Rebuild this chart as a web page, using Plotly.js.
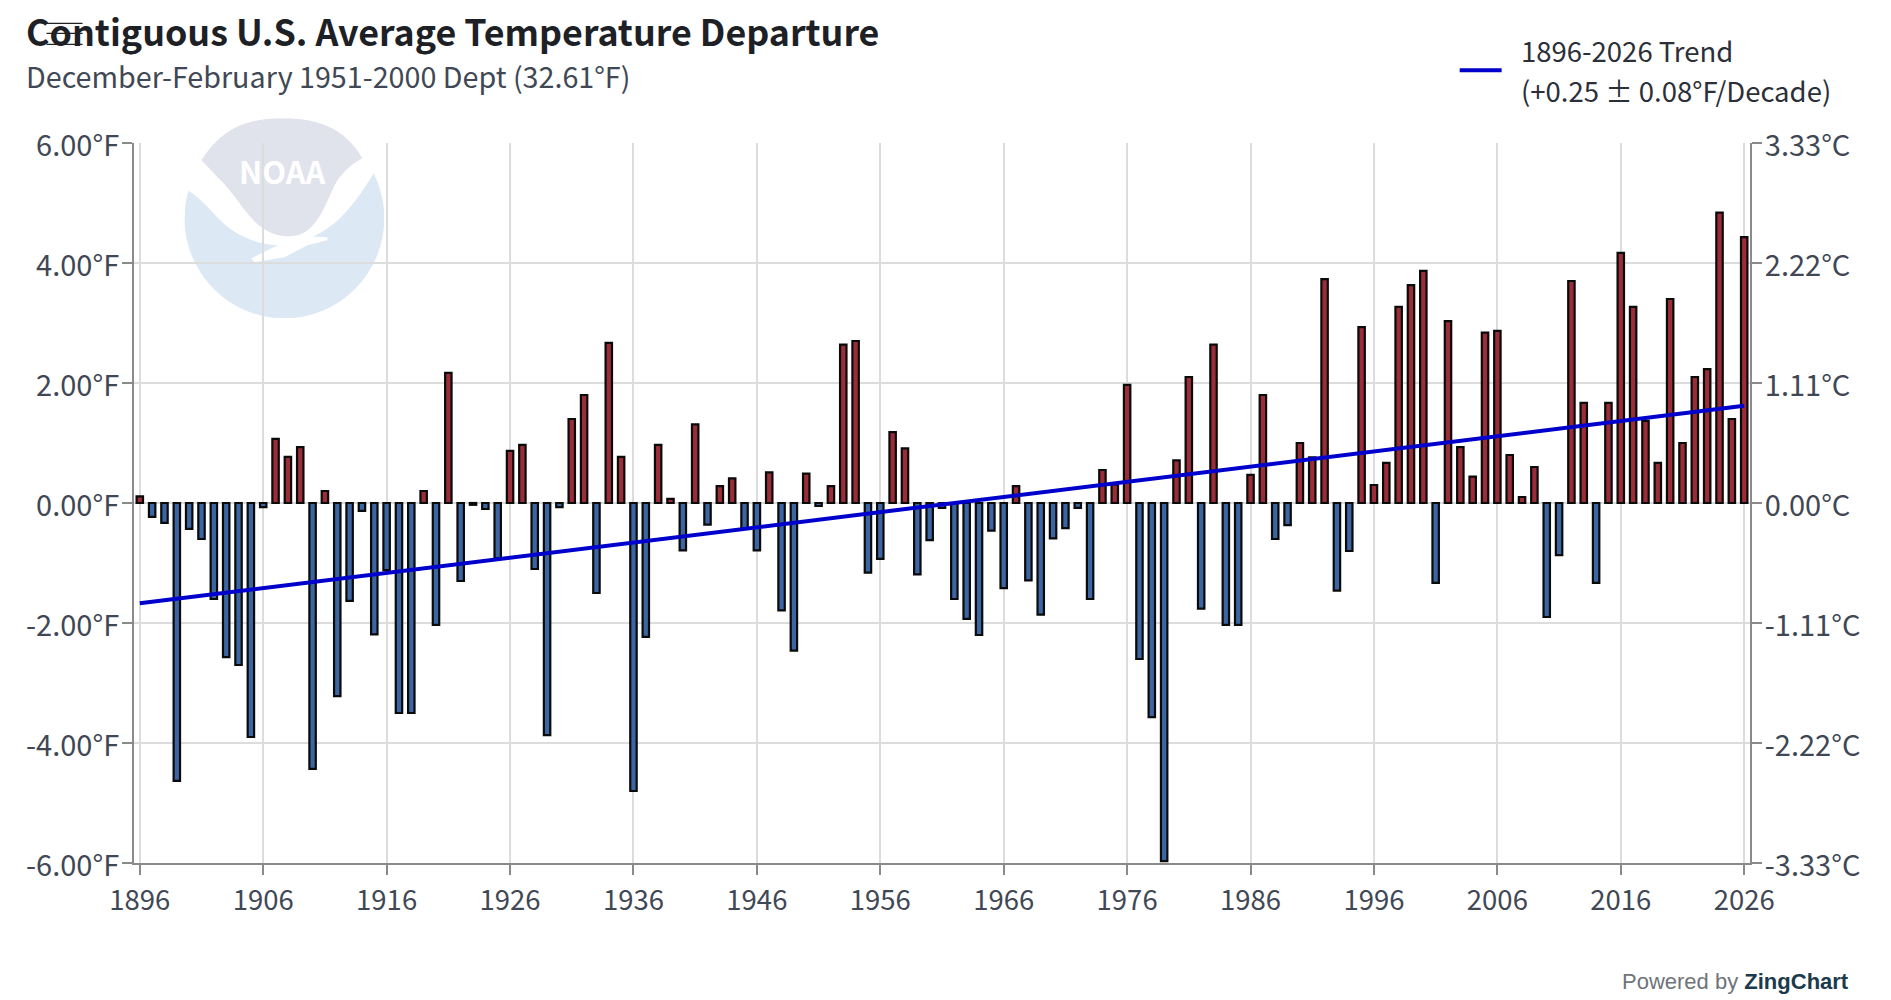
<!DOCTYPE html>
<html>
<head>
<meta charset="utf-8">
<script src="https://cdn.plot.ly/plotly-3.0.1.min.js"></script>
<style>body { margin: 0; background: #fff; }</style>
</head>
<body>
<div id="chart" style="width:1891px;height:1000px"></div>
<script>
// departures in deg F, 1896 to 2026
var years = [];
for (var yr = 1896; yr <= 2026; yr++) years.push(yr);

var departures = [
  0.11, -0.23, -0.33, -4.63, -0.43, -0.60, -1.60, -2.57, -2.70, -3.90,
  -0.07, 1.07, 0.77, 0.93, -4.43, 0.20, -3.22, -1.63, -0.13, -2.19,
  -1.12, -3.50, -3.50, 0.20, -2.03, 2.17, -1.30, -0.03, -0.10, -0.92,
  0.87, 0.97, -1.10, -3.87, -0.07, 1.40, 1.80, -1.50, 2.67, 0.77,
  -4.80, -2.23, 0.97, 0.07, -0.79, 1.31, -0.36, 0.28, 0.41, -0.42,
  -0.79, 0.51, -1.79, -2.46, 0.49, -0.05, 0.28, 2.64, 2.70, -1.16,
  -0.93, 1.18, 0.91, -1.19, -0.62, -0.08, -1.60, -1.93, -2.20, -0.46,
  -1.42, 0.28, -1.29, -1.86, -0.59, -0.42, -0.08, -1.60, 0.55, 0.31,
  1.97, -2.60, -3.57, -5.97, 0.71, 2.10, -1.76, 2.64, -2.03, -2.03,
  0.47, 1.80, -0.60, -0.37, 1.00, 0.76, 3.73, -1.46, -0.80, 2.93,
  0.30, 0.67, 3.27, 3.63, 3.87, -1.33, 3.03, 0.93, 0.44, 2.84,
  2.87, 0.80, 0.10, 0.60, -1.90, -0.87, 3.70, 1.67, -1.33, 1.67,
  4.17, 3.27, 1.37, 0.67, 3.40, 1.00, 2.10, 2.23, 4.84, 1.40,
  4.43
];

var trendYears = [1896, 2026];
var trendValues = [-1.67, 1.62];

var xTicks = [1896, 1906, 1916, 1926, 1936, 1946, 1956, 1966, 1976, 1986, 1996, 2006, 2016, 2026];
var fTicks = [6, 4, 2, 0, -2, -4, -6];
var fLabels = ['6.00°F', '4.00°F', '2.00°F', '0.00°F', '-2.00°F', '-4.00°F', '-6.00°F'];
var cTicks = [3.33, 2.22, 1.11, 0, -1.11, -2.22, -3.33];
var cLabels = ['3.33°C', '2.22°C', '1.11°C', '0.00°C', '-1.11°C', '-2.22°C', '-3.33°C'];

const WIDTH = 1891, HEIGHT = 1000;
const LEFT = 133.5, RIGHT = 1750.5, TOP = 142.7, BOTTOM = 862.7;
const TEXT_FONT = '"Noto Sans CJK SC", "Noto Sans", sans-serif';
const TEXT_GREY = '#3f4854';
const AXIS_GREY = '#8a8a8a';
const GRID_GREY = '#dcdcdc';
const TREND_BLUE = '#0000cc';

// pixel position on the page to paper coordinates
function px(x) { return (x - LEFT) / (RIGHT - LEFT); }
function py(y) { return (BOTTOM - y) / (BOTTOM - TOP); }

// the NOAA roundel, 200 units across
var logoSvg = '<svg xmlns="http://www.w3.org/2000/svg" viewBox="0 0 200 200">' +
  '<circle cx="100" cy="100" r="100" fill="#dce9f5"/>' +
  '<path fill="#ffffff" d="M0,0 L200,0 L200,40 L188,57 C178,74 165,92 150,105 C140,113 130,118 123,121 L97,127 C85,127 74,125 63,120 C50,115 40,107 30,96 C20,85 12,77 3,72 L0,60 Z"/>' +
  '<path fill="#e0e2ec" d="M17,42 C40,5 70,0 99,0 C130,0 160,8 178,40 C170,44 160,52 153,62 C147,72 143,85 137,95 C131,105 125,112 118,115 C112,118 107,118 103,118 C95,118 85,115 77,109 C68,102 60,92 53,82 C46,73 40,65 33,59 C28,53 22,47 17,42 Z"/>' +
  '<path fill="#ffffff" d="M67,140 L97,125 L123,118 L143,119 L143,122 L123,127 L100,139 L70,144 Z"/>' +
  '</svg>';

var barTrace = {
  type: 'bar',
  x: years,
  y: departures,
  width: 0.52,
  showlegend: false,
  hoverinfo: 'x+y',
  marker: {
    color: departures.map(v => v >= 0 ? '#9b2d38' : '#3b66a3'),
    line: { color: '#0a0a0a', width: 2.2 }
  }
};

var trendTrace = {
  type: 'scatter',
  mode: 'lines',
  x: trendYears,
  y: trendValues,
  showlegend: false,
  name: '1896-2026 Trend',
  line: { color: TREND_BLUE, width: 4 }
};

// only there so the Celsius axis gets drawn
var celsiusTrace = {
  type: 'scatter',
  mode: 'markers',
  x: trendYears,
  y: [cTicks[0], cTicks[6]],
  yaxis: 'y2',
  showlegend: false,
  hoverinfo: 'skip',
  marker: { opacity: 0 }
};

function yAxisBase(ticks, labels) {
  return {
    tickmode: 'array',
    tickvals: ticks,
    ticktext: labels,
    ticks: 'outside',
    ticklen: 10,
    tickwidth: 2,
    tickcolor: AXIS_GREY,
    tickfont: { family: TEXT_FONT, size: 29, color: TEXT_GREY },
    ticklabelshift: 3,
    ticklabelstandoff: -3,
    showline: true,
    linecolor: AXIS_GREY,
    linewidth: 2,
    zeroline: false
  };
}

// menu icon over the title, then the legend key
var menuLines = [23, 33, 44].map(y => ({
  type: 'line',
  xref: 'paper', yref: 'paper',
  x0: px(46), x1: px(82), y0: py(y), y1: py(y),
  line: { color: '#222222', width: 1.2 }
}));
var legendKey = {
  type: 'line',
  xref: 'paper', yref: 'paper',
  x0: px(1467 - 7), x1: px(1509 - 7), y0: py(70), y1: py(70),
  line: { color: TREND_BLUE, width: 4 }
};

function legendLine(text, y) {
  return {
    text: text,
    xref: 'paper', yref: 'paper',
    x: px(1519), y: py(y),
    xanchor: 'left', yanchor: 'middle',
    showarrow: false,
    font: { family: TEXT_FONT, size: 27.5, color: '#2b3038' }
  };
}

var layout = {
  width: WIDTH,
  height: HEIGHT,
  autosize: false,
  paper_bgcolor: '#ffffff',
  plot_bgcolor: 'rgba(0,0,0,0)',
  margin: { l: LEFT, r: WIDTH - RIGHT, t: TOP, b: HEIGHT - BOTTOM, pad: 0 },
  font: { family: TEXT_FONT, color: TEXT_GREY, size: 27 },
  showlegend: false,
  title: {
    text: '<b>Contiguous U.S. Average Temperature Departure</b>',
    x: 26 / WIDTH,
    xref: 'container',
    xanchor: 'left',
    y: 1 - 33.5 / HEIGHT,
    yref: 'container',
    yanchor: 'middle',
    font: { family: TEXT_FONT, size: 35.8, color: '#1d2126' }
  },
  xaxis: {
    range: [1895.53, 2026.47],
    tickmode: 'array',
    tickvals: xTicks,
    ticktext: xTicks.map(String),
    ticks: 'outside',
    ticklen: 10,
    tickwidth: 2,
    tickcolor: AXIS_GREY,
    tickfont: { family: TEXT_FONT, size: 27.5, color: TEXT_GREY },
    ticklabelstandoff: 2,
    showline: true,
    linecolor: AXIS_GREY,
    linewidth: 2,
    showgrid: true,
    gridcolor: GRID_GREY,
    gridwidth: 2,
    zeroline: false
  },
  yaxis: Object.assign(yAxisBase(fTicks, fLabels), {
    range: [-6, 6],
    showgrid: true,
    gridcolor: GRID_GREY,
    gridwidth: 2
  }),
  yaxis2: Object.assign(yAxisBase(cTicks, cLabels), {
    overlaying: 'y',
    side: 'right',
    range: [-3.33, 3.33],
    showgrid: false
  }),
  images: [{
    source: 'data:image/svg+xml;charset=utf-8,' + encodeURIComponent(logoSvg),
    xref: 'paper', yref: 'paper',
    x: px(184), y: py(118),
    sizex: 200 / (RIGHT - LEFT), sizey: 200 / (BOTTOM - TOP),
    xanchor: 'left', yanchor: 'top',
    sizing: 'stretch',
    layer: 'below'
  }],
  shapes: menuLines.concat([legendKey]),
  annotations: [
    {
      text: 'December-February 1951-2000 Dept (32.61°F)',
      xref: 'paper', yref: 'paper',
      x: px(23), y: py(75),
      xanchor: 'left', yanchor: 'middle',
      showarrow: false,
      font: { family: TEXT_FONT, size: 28.7, color: TEXT_GREY }
    },
    legendLine('1896-2026 Trend', 50),
    legendLine('(+0.25 ± 0.08°F/Decade)', 90),
    {
      text: '<b>NOAA</b>',
      xref: 'paper', yref: 'paper',
      x: px(282), y: py(170),
      xanchor: 'center', yanchor: 'middle',
      showarrow: false,
      font: { family: TEXT_FONT, size: 31, color: '#ffffff' }
    },
    {
      text: '<span style="color:#6f7479">Powered by</span> <b style="color:#1b3a4b">ZingChart</b>',
      xref: 'paper', yref: 'paper',
      x: px(1852), y: py(981),
      xanchor: 'right', yanchor: 'middle',
      showarrow: false,
      font: { family: '"Liberation Sans", Arial, sans-serif', size: 22 }
    }
  ]
};

Plotly.newPlot('chart', [barTrace, trendTrace, celsiusTrace], layout, { displayModeBar: false, responsive: false });
</script>
</body>
</html>
